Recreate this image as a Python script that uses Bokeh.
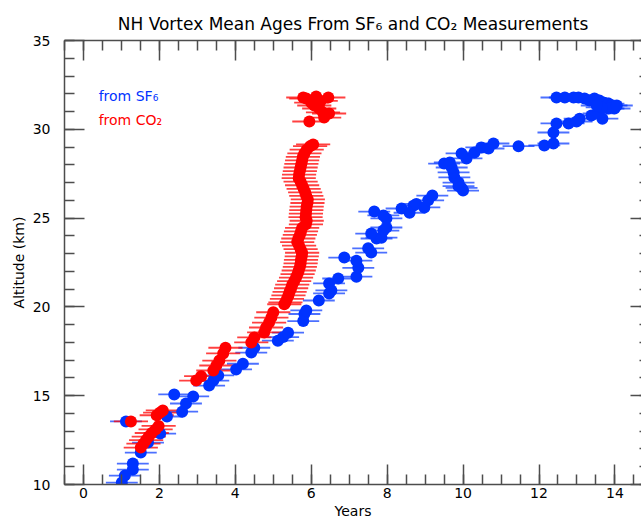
import numpy as np
from bokeh.plotting import figure
from bokeh.models import (LinearAxis, Range1d, Whisker, ColumnDataSource, Label,
                          FixedTicker, CustomLabelingPolicy)
from bokeh.embed import file_html
from bokeh.resources import INLINE

TITLE = "NH Vortex Mean Ages From SF\u2086 and CO\u2082 Measurements"
X_LABEL = "Years"
Y_LABEL = "Altitude (km)"
LABEL_SF6 = "from SF\u2086"
LABEL_CO2 = "from CO\u2082"

# SF6-derived mean age (years) and altitude (km)
sf6_age = [1.01, 1.09, 1.30, 1.30, 1.51, 1.70, 2.02, 1.12, 2.20, 2.60, 2.70, 2.89,
           2.39, 3.31, 3.42, 3.55, 4.02, 4.20, 4.42, 4.50, 5.12, 5.26, 5.39, 5.79,
           5.82, 5.87, 6.20, 6.47, 6.53, 6.47, 6.71, 7.19, 7.24, 7.19, 6.87, 7.50,
           7.58, 7.72, 7.85, 7.58, 7.90, 7.98, 7.98, 7.90, 7.66, 8.38, 8.59, 8.69,
           8.77, 8.98, 9.08, 9.19, 10.00, 9.96, 9.88, 9.88, 9.77, 9.75, 9.70, 9.50,
           9.65, 10.09, 9.96, 10.30, 10.48, 10.67, 10.80, 11.46, 12.14, 12.38, 12.38,
           12.46, 12.78, 12.99, 13.07, 13.38, 13.67, 13.57, 12.46, 12.68, 12.91,
           13.04, 13.20, 13.33, 13.46, 13.59, 13.72, 13.83, 13.91, 13.99, 13.83,
           13.65, 13.52, 14.05]
sf6_alt = [10.11, 10.50, 10.84, 11.18, 11.80, 12.36, 12.87, 13.55, 13.83, 14.10,
           14.56, 14.96, 15.07, 15.57, 15.85, 16.14, 16.48, 16.80, 17.43, 17.70,
           18.10, 18.30, 18.55, 19.20, 19.60, 19.80, 20.36, 20.76, 20.93, 21.32,
           21.60, 21.70, 22.20, 22.60, 22.78, 23.30, 23.06, 23.85, 23.90, 24.13,
           24.30, 24.47, 24.98, 25.15, 25.37, 25.54, 25.30, 25.70, 25.80, 25.60,
           26.00, 26.27, 26.55, 26.70, 26.80, 27.00, 27.29, 27.57, 27.85, 28.07,
           28.13, 28.36, 28.64, 28.70, 28.98, 28.92, 29.20, 29.05, 29.09, 29.20,
           29.82, 30.33, 30.33, 30.44, 30.60, 30.78, 30.60, 30.90, 31.79, 31.79,
           31.79, 31.79, 31.73, 31.62, 31.73, 31.62, 31.50, 31.45, 31.34, 31.17,
           31.17, 31.23, 31.34, 31.34]
sf6_err = 0.42

# CO2-derived mean age (years) and altitude (km)
co2_age = [1.25, 1.51, 1.58, 1.65, 1.72, 1.80, 1.90, 1.98, 1.93, 2.02, 2.09,
           2.97, 3.10, 3.42, 3.50, 3.58, 3.68, 3.74, 4.42, 4.50, 4.76, 4.81, 4.89,
           4.95, 5.00, 5.29, 5.32, 5.36, 5.40, 5.43, 5.47, 5.50, 5.55, 5.60, 5.64,
           5.67, 5.70, 5.72, 5.73, 5.75, 5.76, 5.72, 5.68, 5.63, 5.66, 5.70, 5.73,
           5.76, 5.86, 5.88, 5.85, 5.86, 5.87, 5.88, 5.90, 5.91, 5.87, 5.84, 5.80,
           5.76, 5.72, 5.67, 5.68, 5.70, 5.72, 5.74, 5.76, 5.78, 5.82, 5.88, 5.97,
           6.05, 5.95, 6.34, 6.47, 6.45, 6.13, 5.87, 5.79, 6.00, 6.08, 6.21, 6.31,
           6.25]
co2_alt = [13.55, 12.08, 12.30, 12.50, 12.70, 12.90, 13.10, 13.30, 13.90, 14.05,
           14.17, 15.85, 16.10, 16.42, 16.70, 16.98, 17.38, 17.70, 18.00, 18.28,
           18.56, 18.84, 19.12, 19.40, 19.70, 20.15, 20.25, 20.45, 20.65, 20.85,
           21.05, 21.25, 21.45, 21.65, 21.85, 22.05, 22.25, 22.45, 22.65, 22.85,
           23.05, 23.25, 23.45, 23.65, 23.85, 24.05, 24.25, 24.45, 24.65, 24.85,
           25.05, 25.25, 25.45, 25.65, 25.85, 26.05, 26.25, 26.45, 26.65, 26.85,
           27.05, 27.25, 27.45, 27.65, 27.85, 28.05, 28.25, 28.45, 28.65, 28.85,
           29.05, 29.15, 30.44, 30.66, 30.89, 31.79, 31.85, 31.73, 31.79, 31.50,
           31.34, 31.17, 30.95, 31.60]
co2_err = 0.45

X_MAJOR = [0, 2, 4, 6, 8, 10, 12, 14]
Y_MAJOR = [10, 15, 20, 25, 30, 35]

BLUE = "#0033ff"
RED = "#ff0000"
AXIS_COLOR = "#4d4d4d"
FONT = "DejaVu Sans"

x_minor = list(np.arange(-0.5, 15.01, 0.5))
y_minor = list(range(10, 36))

p = figure(width=641, height=522, x_range=Range1d(-0.5, 14.7), y_range=Range1d(10, 35),
           output_backend="svg", toolbar_location=None, title=TITLE,
           min_border_left=64, min_border_right=0, min_border_top=40,
           min_border_bottom=38)
p.outline_line_color = None
p.xgrid.visible = False
p.ygrid.visible = False
p.background_fill_color = "white"

p.title.text_font = FONT
p.title.text_font_size = "17px"
p.title.text_font_style = "normal"
p.title.text_color = "black"
p.title.align = "center"
p.title.offset = 13
p.title.standoff = 14


def style_axis(ax, labels=True, line=True, tin=20, min_in=10):
    ax.axis_line_color = AXIS_COLOR if line else None
    ax.axis_line_width = 1.5
    ax.major_tick_line_color = AXIS_COLOR
    ax.minor_tick_line_color = AXIS_COLOR
    ax.major_tick_line_width = 1.5
    ax.minor_tick_line_width = 1.5
    ax.major_tick_in = tin
    ax.major_tick_out = 0
    ax.minor_tick_in = min_in
    ax.minor_tick_out = 0
    ax.major_label_text_font = FONT
    ax.major_label_text_color = "black"
    if labels:
        ax.major_label_text_font_size = "14px"
        ax.major_label_standoff = 4
    else:
        ax.major_label_text_font_size = "0px"
        ax.major_label_standoff = 0
        ax.major_label_policy = CustomLabelingPolicy(code="return []")
    ax.axis_label_text_font = FONT
    ax.axis_label_text_font_size = "14px"
    ax.axis_label_text_font_style = "normal"
    ax.axis_label_text_color = "black"


p.xaxis.ticker = FixedTicker(ticks=X_MAJOR, minor_ticks=x_minor)
p.yaxis.ticker = FixedTicker(ticks=Y_MAJOR, minor_ticks=y_minor)
p.xaxis.axis_label = X_LABEL
p.yaxis.axis_label = Y_LABEL
style_axis(p.xaxis[0])
style_axis(p.yaxis[0])
p.xaxis.major_label_standoff = 3
p.xaxis.axis_label_standoff = 2
p.yaxis.major_label_standoff = 14
p.yaxis.axis_label_standoff = 3

top = LinearAxis(ticker=FixedTicker(ticks=X_MAJOR, minor_ticks=x_minor))
style_axis(top, labels=False)
p.add_layout(top, "above")

right = LinearAxis(ticker=FixedTicker(ticks=Y_MAJOR, minor_ticks=y_minor))
style_axis(right, labels=False, line=False, tin=11, min_in=2)
p.add_layout(right, "right")

sf6 = ColumnDataSource(dict(x=sf6_age, y=sf6_alt,
                            lo=[a - sf6_err for a in sf6_age],
                            hi=[a + sf6_err for a in sf6_age]))
co2 = ColumnDataSource(dict(x=co2_age, y=co2_alt,
                            lo=[a - co2_err for a in co2_age],
                            hi=[a + co2_err for a in co2_age]))

w1 = Whisker(source=sf6, base="y", lower="lo", upper="hi", dimension="width",
             lower_head=None, upper_head=None, line_color=BLUE, line_alpha=0.7,
             line_width=1.8)
p.add_layout(w1)
p.scatter("x", "y", source=sf6, size=12, color=BLUE, line_color=None)

w2 = Whisker(source=co2, base="y", lower="lo", upper="hi", dimension="width",
             lower_head=None, upper_head=None, line_color=RED, line_alpha=0.75,
             line_width=1.8)
p.add_layout(w2)
p.scatter("x", "y", source=co2, size=12, color=RED, line_color=None)

p.add_layout(Label(x=0.4, y=31.9, text=LABEL_SF6, text_color=BLUE, text_font=FONT,
                   text_font_size="14px", text_baseline="middle"))
p.add_layout(Label(x=0.4, y=30.5, text=LABEL_CO2, text_color=RED, text_font=FONT,
                   text_font_size="14px", text_baseline="middle"))

open("out.html", "w").write(file_html(p, INLINE))
